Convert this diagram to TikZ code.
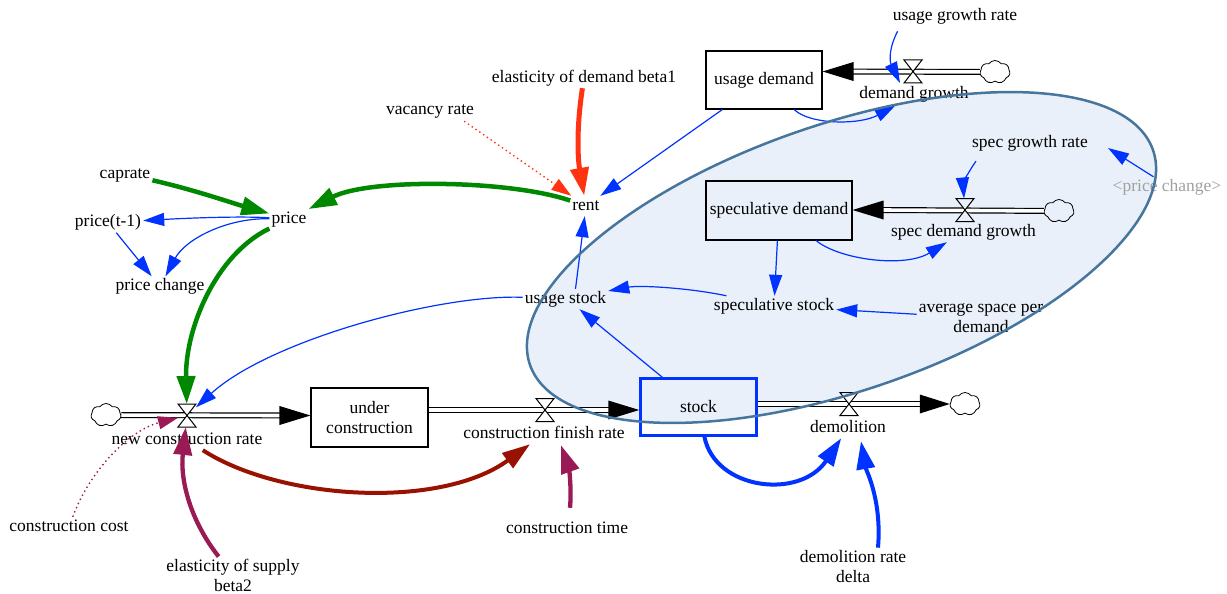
\documentclass[tikz,border=0pt]{standalone}
\usepackage{fontspec}
\setmainfont{Liberation Serif}
\usetikzlibrary{arrows.meta,calc,shapes.symbols}
\definecolor{cgreen}{RGB}{0,136,0}
\definecolor{cblue}{RGB}{0,51,255}
\definecolor{cred}{RGB}{255,51,17}
\definecolor{cdred}{RGB}{153,17,0}
\definecolor{cpurple}{RGB}{153,26,85}
\definecolor{efill}{RGB}{233,240,249}
\definecolor{eline}{RGB}{70,117,158}
\definecolor{cgray}{RGB}{160,160,160}
\newcommand{\sdvalve}[2]{\filldraw[fill=#2, draw=black, line width=1pt, line join=miter] ($(#1)+(-9,-11.5)$) -- ($(#1)+(9,-11.5)$) -- ($(#1)+(-9,11.5)$) -- ($(#1)+(9,11.5)$) -- cycle;}
\newcommand{\sdhead}[2]{\fill[black] ($(#1)+(#2,-9.5)$) -- (#1) -- ($(#1)+(#2,9.5)$) -- cycle;}
\begin{document}
\begin{tikzpicture}[x=1pt,y=-1pt,
  lbl/.style={font=\fontsize{17.5}{20}\selectfont, inner sep=2pt, text height=12pt, text depth=4pt},
  lbltwo/.style={font=\fontsize{17.5}{20}\selectfont, inner sep=2pt, align=center},
  sbox/.style={draw=black, line width=1.1pt, font=\fontsize{17.5}{20}\selectfont, align=center, inner sep=2pt},
  vbox/.style={minimum width=18pt, minimum height=23pt, inner sep=0pt, outer sep=0pt},
  cld/.style={cloud, cloud puffs=7, cloud puff arc=110, cloud ignores aspect, draw=black, line width=0.8pt, minimum width=30pt, minimum height=23pt, inner sep=0pt},
  pipe/.style={draw=black, line width=1.2pt, double=white, double distance=3.6pt},
  thinarrow/.style={draw=cblue, line width=1.2pt, -{Triangle[length=21pt,width=13pt]}},
  thickarrow/.style={line width=4.5pt, -{Triangle[length=28pt,width=18pt]}},
  dotarrow/.style={line width=1.4pt, dash pattern=on 1.4pt off 3.2pt, -{Triangle[length=20pt,width=13pt]}}]
\useasboundingbox (0,0) rectangle (1227,594);
% ellipse fill
\fill[efill, rotate around={19:(841.5,257.5)}] (841.5,257.5) ellipse [x radius=329.5pt, y radius=133.2pt];

% boxes
\node[sbox, minimum width=116pt, minimum height=58pt] (ud) at (764,80) {usage demand};
\node[sbox, minimum width=146pt, minimum height=59pt] (sd) at (779,210.5) {speculative demand};
\node[sbox, minimum width=117pt, minimum height=59pt] (uc) at (369.5,417.5) {under\\construction};
\node[sbox, draw=cblue, line width=2.5pt, minimum width=116pt, minimum height=57pt] (stock) at (698.5,407) {stock};

% valves and clouds
\node[vbox] (vdg) at (913,71.5) {};
\node[vbox] (vsdg) at (965,210) {};
\node[vbox] (vncr) at (187,415.5) {};
\node[vbox] (vcfr) at (545,410) {};
\node[vbox] (vdem) at (849,404) {};
\node[cld] (c1) at (995,72) {};
\node[cld] (c2) at (1059,211) {};
\node[cld] (c3) at (106,415) {};
\node[cld] (c4) at (965,404) {};

% pipes
\draw[pipe] (c1) -- ($(ud.east|-vdg)+(30,0)$);
\sdhead{ud.east|-vdg}{31}
\draw[pipe] (c2) -- ($(sd.east|-vsdg)+(30,0)$);
\sdhead{sd.east|-vsdg}{31}
\draw[pipe] (c3) -- ($(uc.west|-vncr)+(-30,0)$);
\sdhead{uc.west|-vncr}{-31}
\draw[pipe] (uc.east|-vcfr) -- ($(stock.west|-vcfr)+(-30,0)$);
\sdhead{stock.west|-vcfr}{-31}
\draw[pipe] (stock.east|-vdem) -- ($(c4.west|-vdem)+(-29,0)$);
\sdhead{c4.west|-vdem}{-30}
\sdvalve{vdg}{white}
\sdvalve{vsdg}{efill}
\sdvalve{vncr}{white}
\sdvalve{vcfr}{white}
\sdvalve{vdem}{white}

% labels
\node[lbl] (ugr) at (955,17) {usage growth rate};
\node[lbl] (dg) at (914,95) {demand growth};
\node[lbl] (edb) at (584,78) {elasticity of demand beta1};
\node[lbl] (vr) at (430,110) {vacancy rate};
\node[lbl] (rent) at (586,206) {rent};
\node[lbl] (caprate) at (125,174) {caprate};
\node[lbl] (price) at (289,219) {price};
\node[lbl] (pt1) at (108,222.5) {price(t-1)};
\node[lbl] (pc) at (160,286.5) {price change};
\node[lbl] (sgr) at (1030,143) {spec growth rate};
\node[lbl, text=cgray] (pcg) at (1167,187) {\textless price change\textgreater};
\node[lbl] (sdg) at (963.5,232) {spec demand growth};
\node[lbl] (us) at (565.5,299) {usage stock};
\node[lbl] (ss) at (774,306) {speculative stock};
\node[lbltwo] (asp) at (981,318) {average space per\\demand};
\node[lbl] (ncr) at (187,440) {new construction rate};
\node[lbl] (cfr) at (544,434) {construction finish rate};
\node[lbl] (dem) at (848,428) {demolition};
\node[lbl] (cc) at (69,527) {construction cost};
\node[lbltwo] (esb) at (233,575) {elasticity of supply\\beta2};
\node[lbl] (ct) at (567,529) {construction time};
\node[lbltwo] (drd) at (853,567) {demolition rate\\delta};

% free ends
\coordinate (ugrout) at ($(ugr.south west)+(7,4)$);
\coordinate (dgin) at ($(vdg.south west)+(-4,0)$);
\coordinate (sgrout) at ($(sgr.south west)+(6,8)$);
\coordinate (pcgout) at ($(pcg.north west)+(43,0)$);
\coordinate (sgrin) at ($(sgr.east)+(18,5)$);
\coordinate (ctout) at ($(ct.north)+(3,-11)$);
\coordinate (cfrin) at ($(cfr.south)+(17,1)$);
\coordinate (drdout) at ($(drd.north)+(25,-1)$);
\coordinate (demin) at ($(dem.south)+(13,3)$);
\coordinate (vrout) at ($(vr.south east)+(-12,1)$);

% green
\draw[thickarrow, cgreen] (caprate) .. controls (195,190) and (232,203) .. (price);
\draw[thickarrow, cgreen] (rent) .. controls (510,180) and (370,178) .. (price);
\draw[thickarrow, cgreen] (price) .. controls (215,255) and (185,330) .. (vncr);
% thin blue
\draw[thinarrow] (price) .. controls (240,216) and (190,218) .. (pt1);
\draw[thinarrow] (price) .. controls (225,218) and (185,240) .. (pc);
\draw[thinarrow] (pt1) -- (pc);
\draw[thinarrow] (ud) -- (rent);
\draw[thinarrow] ([xshift=10pt]us.north) -- (rent);
\draw[thinarrow] (us) .. controls (440,294) and (270,340) .. (vncr);
\draw[thinarrow] (ss) .. controls (690,288) and (640,285) .. (us);
\draw[thinarrow] (stock) -- ([xshift=14pt]us.south);
\draw[thinarrow] (sd) -- (ss);
\draw[thinarrow] (asp) -- (ss);
\draw[thinarrow] (sd) .. controls (840,260) and (905,268) .. (sdg);
\draw[thinarrow] (ud) .. controls (810,125) and (860,125) .. (dg);
\draw[thinarrow] (ugrout) .. controls (888,50) and (890,62) .. (dgin);
\draw[thinarrow] (sgrout) .. controls (968,172) and (963,185) .. (vsdg);
\draw[thinarrow] (pcgout) -- (sgrin);
% red
\draw[dotarrow, cred] (vrout) -- (rent);
\draw[cred, line width=5pt, -{Triangle[length=28pt,width=18pt]}] (edb) .. controls (576,130) and (578,160) .. (rent);
% dark red and purple
\draw[thickarrow, cdred, line width=4pt] (ncr) .. controls (280,500) and (440,510) .. (cfr);
\draw[thickarrow, cpurple, line width=4.3pt] (ctout) .. controls (572,485) and (568,465) .. (cfrin);
\draw[thickarrow, cpurple, line width=4.3pt] (esb) .. controls (190,520) and (180,480) .. (vncr);
\draw[dotarrow, cpurple] (cc) .. controls (90,470) and (130,430) .. (vncr);
% thick blue
\draw[thickarrow, cblue, line width=4pt] (stock) .. controls (715,490) and (800,500) .. (dem);
\draw[thickarrow, cblue, line width=4pt] (drdout) .. controls (882,500) and (866,470) .. (demin);

% ellipse outline
\draw[eline, line width=2.5pt, rotate around={19:(841.5,257.5)}] (841.5,257.5) ellipse [x radius=329.5pt, y radius=133.2pt];
\end{tikzpicture}
\end{document}
